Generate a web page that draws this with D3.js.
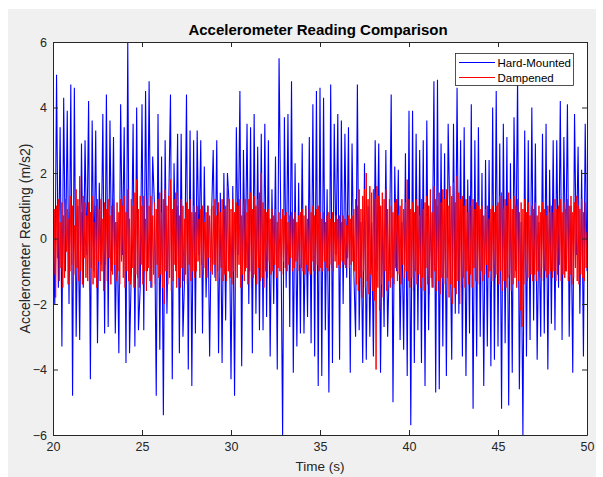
<!DOCTYPE html>
<html><head><meta charset="utf-8">
<script src="https://cdn.jsdelivr.net/npm/d3@7"></script>
<style>body{margin:0;background:#fff}svg{display:block}</style>
</head><body><svg id="c" width="603" height="477"></svg>
<script>
const titleText = "Accelerometer Reading Comparison";
const xLabel = "Time (s)";
const yLabel = "Accelerometer Reading (m/s2)";
const seriesNames = ["Hard-Mounted", "Dampened"];
const xTicks = [20, 25, 30, 35, 40, 45, 50];
const yTicks = [-6, -4, -2, 0, 2, 4, 6];
const tStart = 20;
const hardStep = 0.1;
const dampStep = 0.05;

// Hard-Mounted, one value every 0.1 s from 20 s to 50 s
const hardMounted = [
 0.5,-2.0,5.0,-1.5,3.4,-3.3,4.3,-1.0,3.9,-2.0,
 4.7,-4.8,4.6,-3.0,1.0,-3.1,2.9,-1.5,3.0,-0.5,
 4.2,-4.3,3.6,-1.0,3.3,-3.2,1.7,-0.8,3.8,-2.9,
 4.4,-2.7,3.6,-1.0,3.1,-2.9,0.5,-3.5,4.1,-0.5,
 3.4,-3.8,6.0,-3.5,-1.0,3.5,-3.3,4.0,-2.8,-1.5,
 4.1,-2.8,4.5,-1.0,4.8,-1.5,2.5,1.0,-4.8,3.8,
 -3.4,2.5,-5.4,3.0,-2.3,1.0,4.4,-4.3,2.3,-1.0,
 3.2,-3.5,3.2,-3.0,-1.0,4.4,-4.0,3.3,-4.5,3.0,
 -2.9,3.3,-0.5,3.0,-2.9,2.2,-1.8,1.0,-3.6,0.5,
 2.7,-1.2,3.0,-3.5,1.4,-3.8,2.0,-2.5,2.0,1.0,
 -4.3,1.6,-4.8,3.4,-0.5,4.5,-3.9,2.7,-1.0,3.5,
 -2.0,3.4,-3.5,3.8,-2.3,2.8,-2.8,3.2,-2.8,3.5,
 -2.4,3.0,-3.6,1.5,-2.0,2.5,-4.0,5.5,0.5,-6.0,
 3.7,-1.5,3.8,-2.7,4.8,-4.1,2.3,-3.3,1.7,-2.9,
 2.9,-2.9,1.0,-2.4,3.1,-3.2,4.1,-3.6,4.5,-4.5,
 4.6,-4.2,4.3,-2.8,1.5,-4.7,4.7,-3.8,3.5,-0.5,
 3.8,-3.7,3.6,-2.0,3.2,-1.2,3.4,-4.1,2.9,-1.0,
 -3.0,4.7,-2.8,0.5,-3.8,2.3,-3.7,1.0,-3.0,0.5,
 -3.6,3.0,-1.0,2.9,-4.1,1.0,-2.7,2.7,-3.0,-0.5,
 4.4,-5.0,2.2,-1.0,2.1,-3.1,0.5,-3.4,2.6,-4.2,
 3.9,-5.7,3.9,-3.8,3.2,-2.8,2.7,-3.8,3.0,-4.5,
 3.6,-2.8,1.0,-1.5,4.8,-4.7,4.85,-4.6,2.9,-3.3,
 2.6,-4.2,3.5,0.5,-3.7,3.5,-2.3,4.6,-2.3,3.0,
 -3.6,3.4,-4.2,1.8,-2.9,4.1,-5.2,3.0,-3.6,3.4,
 -3.0,2.0,-4.5,2.4,-3.3,2.4,-3.9,4.0,-3.7,4.5,
 -3.3,2.9,-5.2,3.5,-3.2,3.1,-5.1,2.3,-4.1,3.7,
 -1.0,4.9,-4.6,0.5,-6.0,3.3,-3.6,3.0,-3.1,4.0,
 -2.5,2.9,-3.7,0.5,-3.0,3.2,-2.9,3.5,-4.0,2.1,
 -2.6,3.0,-2.8,3.0,-1.5,4.2,-3.1,3.1,-1.0,4.1,
 -3.0,1.0,-4.1,3.8,-0.5,2.8,-2.3,2.1,-3.6,3.5,
 -1.0
];

// Dampened, one value every 0.05 s from 20 s to 50 s
const dampened = [
 0.3,-1.1,0.9,-1.8,1.0,-0.6,1.2,-1.3,0.5,-0.9,1.1,-1.5,0.7,-1.2,1.2,-0.4,0.9,-1.4,0.6,-1.0,
 1.3,-0.8,1.0,-1.4,0.4,-1.1,1.5,-0.9,1.2,-1.3,1.9,-1.0,0.8,-1.4,1.3,-0.6,1.1,-1.2,0.7,-1.3,
 1.1,-1.6,0.8,-0.9,1.3,-1.4,0.5,-1.2,1.0,-1.5,1.2,-0.7,0.9,-1.3,1.2,-1.0,0.6,-1.6,1.1,-0.8,
 0.9,-1.3,1.2,-0.6,0.7,-1.4,1.0,-1.1,1.2,-0.8,0.5,-1.3,1.1,-1.0,0.8,-1.4,1.2,-0.7,1.0,-1.2,
 1.3,-1.5,0.8,-1.0,1.5,-1.3,0.6,-1.4,1.2,-0.9,1.0,-1.5,1.4,-1.1,1.8,-1.2,0.9,-1.5,1.3,-0.8,
 1.0,-1.4,1.3,-1.0,0.6,-1.6,1.2,-0.9,1.0,-1.3,1.3,-1.5,0.7,-1.1,1.1,-1.4,0.9,-0.8,1.2,-1.2,
 1.4,-1.1,0.8,-1.5,1.2,-2.0,1.5,-1.0,1.0,-1.4,1.3,-1.2,1.8,-1.6,0.9,-1.3,1.2,-0.8,1.4,-1.5,
 1.0,-1.2,0.7,-1.5,1.2,-0.9,1.0,-1.3,0.6,-1.1,1.1,-1.4,0.9,-0.8,1.2,-1.3,0.8,-1.0,1.0,-1.2,
 0.8,-1.0,1.0,-0.7,0.6,-1.2,0.9,-0.8,1.0,-1.1,0.5,-0.9,0.8,-1.2,1.0,-0.6,0.7,-1.0,0.9,-1.1,
 1.0,-0.8,1.2,-1.3,0.7,-1.0,1.1,-1.2,0.8,-0.9,1.2,-1.3,0.9,-1.1,1.0,-1.3,1.6,-1.0,1.2,-1.2,
 0.9,-1.4,1.2,-1.0,0.8,-1.6,1.1,-1.2,1.0,-0.8,1.2,-1.5,0.7,-1.1,1.0,-1.3,1.2,-0.9,0.8,-1.4,
 1.2,-1.0,1.4,-1.5,0.9,-1.2,1.3,-1.1,1.0,-1.4,1.2,-0.9,1.4,-1.3,2.0,-1.2,1.1,-1.5,0.9,-1.0,
 0.8,-1.2,0.9,-0.7,0.6,-1.1,0.9,-1.0,0.7,-0.8,0.9,-1.2,0.5,-0.9,0.8,-1.0,0.6,-1.1,0.9,-0.7,
 0.7,-0.9,0.8,-1.0,0.5,-0.8,0.7,-0.6,0.8,-1.0,0.6,-0.9,0.8,-0.7,0.5,-1.0,0.7,-0.8,0.8,-0.9,
 0.9,-1.0,0.7,-1.1,1.0,-0.8,0.6,-1.0,0.9,-1.1,0.8,-0.7,1.0,-1.0,0.7,-1.1,0.9,-0.8,1.0,-1.0,
 0.8,-0.9,0.6,-1.0,0.8,-0.7,0.5,-0.9,0.7,-1.0,0.8,-0.8,0.6,-0.9,0.8,-1.0,0.5,-0.7,0.7,-0.9,
 0.6,-0.8,0.7,-0.9,0.5,-0.7,0.7,-0.8,0.6,-0.9,0.4,-0.6,0.7,-0.9,0.6,-0.8,0.7,-0.7,0.9,-1.0,
 1.2,-1.4,1.0,-1.6,1.5,-1.2,0.9,-1.8,1.3,-1.0,1.5,-1.5,2.0,-1.3,1.2,-1.7,1.6,-1.1,1.4,-1.6,
 1.5,-1.9,1.2,-4.0,1.6,-1.5,1.3,-2.2,1.0,-1.4,1.4,-1.8,1.2,-1.0,1.5,-1.6,0.9,-1.3,1.2,-1.5,
 1.0,-1.2,0.8,-1.4,1.1,-0.9,1.2,-1.3,0.7,-1.1,1.0,-1.4,1.2,-0.8,0.9,-1.2,1.1,-1.0,1.8,-1.3,
 1.2,-1.5,0.9,-1.2,1.1,-1.6,0.8,-1.0,1.2,-1.4,1.0,-1.1,0.7,-1.5,1.2,-1.2,0.9,-1.6,1.1,-0.9,
 1.3,-1.4,1.0,-1.7,1.5,-1.2,0.8,-1.5,1.6,-1.0,1.2,-1.6,1.0,-1.3,1.4,-1.7,1.1,-1.2,1.5,-1.4,
 1.2,-1.6,1.5,-1.2,1.0,-1.8,1.6,-1.4,1.3,-2.0,1.7,-1.5,1.1,-1.7,1.9,-1.3,1.4,-2.0,1.2,-1.5,
 1.3,-1.2,1.0,-1.5,1.2,-1.0,0.8,-1.4,1.3,-1.1,1.0,-1.5,1.2,-0.9,0.9,-1.3,1.1,-1.2,1.0,-1.4,
 0.9,-1.0,1.0,-1.3,0.7,-1.1,0.9,-0.8,1.0,-1.2,0.6,-1.0,0.9,-1.3,1.0,-0.9,0.8,-1.2,1.0,-1.1,
 1.1,-1.4,1.3,-1.0,1.4,-1.6,0.9,-1.3,1.2,-1.5,1.0,-1.2,1.4,-1.1,1.2,-1.6,0.9,-1.4,1.3,-1.2,
 1.0,-1.5,1.2,-1.3,0.8,-2.2,1.1,-2.7,0.9,-1.4,1.2,-1.0,0.8,-1.3,1.1,-1.2,0.7,-1.1,1.0,-1.3,
 0.9,-1.1,1.1,-1.3,0.7,-1.0,1.0,-1.2,0.8,-0.9,1.1,-1.3,0.9,-1.0,0.7,-1.2,1.0,-1.1,0.8,-1.0,
 1.0,-1.2,0.8,-1.0,1.2,-1.3,0.9,-1.1,1.0,-0.8,1.2,-1.3,0.8,-1.1,1.1,-1.2,0.9,-1.0,1.2,-1.3,
 1.0,-1.1,1.3,-1.4,0.8,-1.2,1.1,-0.9,1.3,-1.3,1.0,-1.4,0.9,-1.1,1.2,-1.2,0.8,-1.3,1.1,-0.9,
 0.2
];

const W = 603, H = 477;
const m = {left: 53, right: 587, top: 42, bottom: 435};
const font = "'Liberation Sans', Arial, Helvetica, sans-serif";
const axisColor = "#262626";

const svg = d3.select("#c");
svg.append("rect").attr("x", 8).attr("y", 9).attr("width", 588).attr("height", 468).attr("fill", "#f0f0f0");

const x = d3.scaleLinear().domain([20, 50]).range([m.left, m.right]);
const y = d3.scaleLinear().domain([-6, 6]).range([m.bottom, m.top]);

svg.append("rect").attr("x", m.left).attr("y", m.top)
  .attr("width", m.right - m.left).attr("height", m.bottom - m.top).attr("fill", "#fff");

svg.append("clipPath").attr("id", "clip").append("rect")
  .attr("x", m.left).attr("y", m.top).attr("width", m.right - m.left).attr("height", m.bottom - m.top);

const lineHard = d3.line().x((d, i) => x(tStart + i * hardStep)).y(d => y(d));
const lineDamp = d3.line().x((d, i) => x(tStart + i * dampStep)).y(d => y(d));

const g = svg.append("g").attr("clip-path", "url(#clip)");
g.append("path").datum(hardMounted).attr("d", lineHard)
  .attr("fill", "none").attr("stroke", "#0000ff").attr("stroke-width", 1.1);
g.append("path").datum(dampened).attr("d", lineDamp)
  .attr("fill", "none").attr("stroke", "#ff0000").attr("stroke-width", 1);

function styleAxis(sel) {
  sel.selectAll("path").attr("stroke", axisColor);
  sel.selectAll("line").attr("stroke", axisColor);
  sel.selectAll("text").attr("fill", axisColor).style("font-family", font).style("font-size", "12.5px");
}

svg.append("g").attr("transform", `translate(0,${m.bottom})`)
  .call(d3.axisBottom(x).tickValues(xTicks).tickSizeInner(-5).tickSizeOuter(0).tickPadding(7).tickFormat(d3.format("d")))
  .call(styleAxis);
svg.append("g").attr("transform", `translate(0,${m.top})`)
  .call(d3.axisTop(x).tickValues(xTicks).tickSizeInner(-5).tickSizeOuter(0).tickFormat(""))
  .call(styleAxis);
svg.append("g").attr("transform", `translate(${m.left},0)`)
  .call(d3.axisLeft(y).tickValues(yTicks).tickSizeInner(-5).tickSizeOuter(0).tickPadding(6).tickFormat(d3.format("d")))
  .call(styleAxis);
svg.append("g").attr("transform", `translate(${m.right},0)`)
  .call(d3.axisRight(y).tickValues(yTicks).tickSizeInner(-5).tickSizeOuter(0).tickFormat(""))
  .call(styleAxis);

svg.append("text").attr("x", (m.left + m.right) / 2 - 2).attr("y", 35)
  .attr("text-anchor", "middle").style("font-family", font).style("font-size", "15px")
  .style("font-weight", "bold").attr("fill", "#000").text(titleText);

svg.append("text").attr("x", (m.left + m.right) / 2).attr("y", 471)
  .attr("text-anchor", "middle").style("font-family", font).style("font-size", "13.5px")
  .attr("fill", axisColor).text(xLabel);

svg.append("text").attr("transform", `translate(30,${(m.top + m.bottom) / 2}) rotate(-90)`)
  .attr("text-anchor", "middle").style("font-family", font).style("font-size", "14px")
  .attr("fill", axisColor).text(yLabel);

// legend
const lg = svg.append("g");
lg.append("rect").attr("x", 455.5).attr("y", 53.5).attr("width", 118).attr("height", 32)
  .attr("fill", "#fff").attr("stroke", axisColor).attr("stroke-width", 0.8);
const colors = ["#0000ff", "#ff0000"];
seriesNames.forEach((name, i) => {
  const yy = 62.5 + i * 15;
  lg.append("line").attr("x1", 459).attr("x2", 495).attr("y1", yy).attr("y2", yy)
    .attr("stroke", colors[i]).attr("stroke-width", 1);
  lg.append("text").attr("x", 497.5).attr("y", yy + 4).style("font-family", font)
    .style("font-size", "11.5px").attr("fill", "#000").text(name);
});
</script>
</body></html>
